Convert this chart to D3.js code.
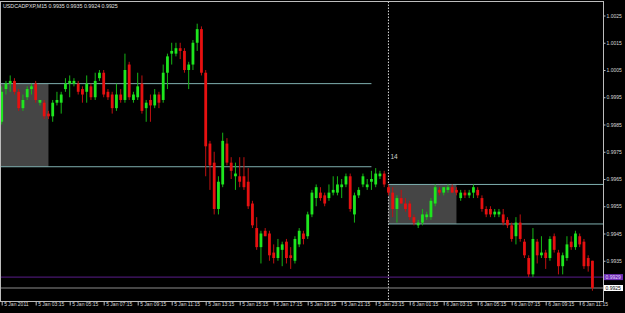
<!DOCTYPE html>
<meta charset="utf-8">
<head>
<script src="https://d3js.org/d3.v7.min.js"></script>
<style>
  body { margin: 0; background: #000; }
  svg text { font-family: "Liberation Sans", Arial, sans-serif; }
</style>
</head>
<body>
<svg id="chart" width="625" height="313"></svg>
<script>

// USDCAD M15, 5 Jan 01:15 -> 6 Jan 12:00 (140 bars)
const symbolTitle = "USDCADPXP,M15";

const barOpen = [
  0.9986,0.9998,1.0000,1.0001,0.9997,0.9991,0.9995,0.9998,1.0000,0.9993,
  0.9993,0.9989,0.9988,0.9993,0.9993,0.9998,1.0000,1.0000,1.0000,0.9998,
  0.9997,0.9999,0.9995,1.0002,1.0004,0.9997,0.9996,0.9991,0.9996,0.9994,
  1.0007,0.9994,0.9995,1.0000,0.9991,0.9994,0.9992,0.9996,0.9994,1.0004,
  1.0011,1.0011,1.0013,1.0012,1.0005,1.0007,1.0015,1.0020,1.0004,0.9978,
  0.9971,0.9954,0.9963,0.9978,0.9971,0.9966,0.9966,0.9966,0.9964,0.9956,
  0.9947,0.9940,0.9946,0.9945,0.9938,0.9936,0.9939,0.9942,0.9937,0.9935,
  0.9941,0.9945,0.9944,0.9952,0.9958,0.9960,0.9959,0.9958,0.9960,0.9960,
  0.9962,0.9963,0.9966,0.9952,0.9959,0.9963,0.9962,0.9964,0.9963,0.9966,
  0.9967,0.9962,0.9960,0.9954,0.9958,0.9956,0.9956,0.9951,0.9948,0.9949,
  0.9951,0.9951,0.9956,0.9961,0.9960,0.9961,0.9962,0.9961,0.9958,0.9960,
  0.9959,0.9960,0.9961,0.9958,0.9954,0.9954,0.9952,0.9952,0.9952,0.9950,
  0.9948,0.9944,0.9949,0.9942,0.9936,0.9930,0.9942,0.9937,0.9938,0.9936,
  0.9944,0.9938,0.9933,0.9936,0.9942,0.9940,0.9944,0.9942,0.9936,0.9935
];
const barHigh = [
  0.9999,1.0001,1.0003,1.0002,0.9998,0.9996,0.9999,1.0000,1.0001,0.9994,
  0.9994,0.9990,0.9994,0.9997,0.9997,1.0002,1.0003,1.0002,1.0001,0.9999,
  1.0003,1.0000,1.0004,1.0005,1.0005,0.9998,0.9997,1.0000,0.9998,1.0011,
  1.0008,0.9997,1.0004,1.0003,0.9994,0.9996,0.9998,0.9997,1.0007,1.0011,
  1.0015,1.0015,1.0015,1.0013,1.0008,1.0016,1.0022,1.0021,1.0005,0.9979,
  0.9975,0.9966,0.9982,0.9980,0.9973,0.9971,0.9973,0.9973,0.9969,0.9957,
  0.9951,0.9946,0.9947,0.9946,0.9941,0.9943,0.9942,0.9943,0.9940,0.9944,
  0.9947,0.9946,0.9953,0.9961,0.9963,0.9962,0.9960,0.9963,0.9966,0.9966,
  0.9965,0.9967,0.9967,0.9960,0.9962,0.9967,0.9965,0.9968,0.9969,0.9968,
  0.9968,0.9963,0.9962,0.9959,0.9961,0.9958,0.9957,0.9952,0.9950,0.9954,
  0.9953,0.9958,0.9963,0.9962,0.9962,0.9963,0.9963,0.9962,0.9961,0.9961,
  0.9961,0.9963,0.9962,0.9959,0.9955,0.9955,0.9954,0.9954,0.9954,0.9951,
  0.9949,0.9951,0.9952,0.9943,0.9937,0.9947,0.9943,0.9944,0.9939,0.9944,
  0.9945,0.9939,0.9938,0.9944,0.9944,0.9946,0.9945,0.9943,0.9937,0.9935
];
const barLow = [
  0.9985,0.9996,0.9997,0.9996,0.9990,0.9990,0.9994,0.9996,0.9993,0.9992,
  0.9987,0.9987,0.9986,0.9992,0.9989,0.9997,0.9995,0.9999,0.9996,0.9993,
  0.9993,0.9994,0.9994,1.0001,0.9995,0.9994,0.9989,0.9990,0.9993,0.9993,
  0.9994,0.9993,0.9994,0.9989,0.9986,0.9986,0.9991,0.9991,0.9993,0.9998,
  1.0007,1.0010,1.0009,1.0004,0.9998,1.0005,1.0012,1.0003,0.9966,0.9961,
  0.9952,0.9952,0.9962,0.9970,0.9965,0.9961,0.9962,0.9961,0.9954,0.9947,
  0.9939,0.9934,0.9944,0.9935,0.9934,0.9935,0.9933,0.9934,0.9932,0.9934,
  0.9940,0.9941,0.9943,0.9951,0.9955,0.9957,0.9955,0.9957,0.9959,0.9959,
  0.9958,0.9962,0.9953,0.9949,0.9958,0.9962,0.9961,0.9961,0.9962,0.9965,
  0.9962,0.9959,0.9951,0.9949,0.9956,0.9953,0.9950,0.9948,0.9947,0.9948,
  0.9950,0.9950,0.9955,0.9959,0.9959,0.9960,0.9960,0.9959,0.9957,0.9958,
  0.9958,0.9958,0.9958,0.9953,0.9951,0.9951,0.9951,0.9951,0.9948,0.9947,
  0.9942,0.9941,0.9942,0.9936,0.9929,0.9929,0.9934,0.9936,0.9932,0.9935,
  0.9938,0.9930,0.9930,0.9935,0.9939,0.9939,0.9940,0.9932,0.9931,0.9924
];
const barClose = [
  0.9997,1.0000,1.0001,0.9997,0.9991,0.9994,0.9998,0.9999,0.9994,0.9994,
  0.9988,0.9988,0.9993,0.9994,0.9996,1.0000,1.0001,1.0001,0.9997,0.9996,
  1.0000,0.9995,1.0001,1.0004,0.9996,0.9995,0.9991,0.9996,0.9994,1.0005,
  0.9995,0.9996,0.9999,0.9990,0.9993,0.9992,0.9996,0.9993,1.0004,1.0010,
  1.0012,1.0013,1.0012,1.0005,1.0007,1.0015,1.0020,1.0004,0.9977,0.9970,
  0.9954,0.9964,0.9979,0.9971,0.9968,0.9967,0.9964,0.9962,0.9955,0.9948,
  0.9940,0.9945,0.9944,0.9937,0.9936,0.9940,0.9941,0.9936,0.9936,0.9943,
  0.9946,0.9943,0.9952,0.9960,0.9962,0.9958,0.9956,0.9960,0.9961,0.9963,
  0.9963,0.9966,0.9954,0.9959,0.9961,0.9966,0.9963,0.9965,0.9967,0.9967,
  0.9963,0.9960,0.9954,0.9958,0.9956,0.9954,0.9951,0.9949,0.9949,0.9952,
  0.9952,0.9957,0.9962,0.9960,0.9962,0.9962,0.9960,0.9960,0.9960,0.9959,
  0.9960,0.9962,0.9959,0.9954,0.9952,0.9952,0.9953,0.9953,0.9949,0.9948,
  0.9943,0.9949,0.9943,0.9937,0.9930,0.9943,0.9937,0.9938,0.9936,0.9943,
  0.9939,0.9933,0.9937,0.9941,0.9940,0.9945,0.9941,0.9933,0.9933,0.9925
];

// time axis: a label every 8 bars
const timeTicks = [0,8,16,24,32,40,48,56,64,72,80,88,96,104,112,120,128,136];
const timeLabels = [
  "5 Jan 2011","5 Jan 03:15","5 Jan 05:15","5 Jan 07:15","5 Jan 09:15",
  "5 Jan 11:15","5 Jan 13:15","5 Jan 15:15","5 Jan 17:15","5 Jan 19:15",
  "5 Jan 21:15","5 Jan 23:15","6 Jan 01:15","6 Jan 03:15","6 Jan 05:15",
  "6 Jan 07:15","6 Jan 09:15","6 Jan 11:15"
];
const priceTicks = [1.0025,1.0015,1.0005,0.9995,0.9985,0.9975,0.9965,0.9955,0.9945,0.9935];

// 00:00-04:00 range boxes (bar indices) and their levels
const boxStart = [-5, 91];
const boxEnd = [11, 107];
const boxHigh = [1.0000, 0.9963];
const boxLow = [0.99695, 0.99485];
const levelEnd = [87, 150];

const daySeparator = 91;
const askPrice = 0.9929;
const bidPrice = 0.9925;

const svg = d3.select("#chart"),
    width = +svg.attr("width"),
    height = +svg.attr("height");

svg.append("rect").attr("width", width).attr("height", height).attr("fill", "#000");

var plotRight = 603.5, plotTop = 1.5, plotBottom = 301.5;

var x = d3.scaleLinear().domain([0, 139]).range([1.7, 592.45]);
var y = d3.scaleLinear().domain([0.9925, 1.0025]).range([288, 15.5]);

svg.append("clipPath").attr("id", "plotclip")
  .append("rect").attr("x", 0.5).attr("y", plotTop).attr("width", plotRight - 0.5).attr("height", plotBottom - plotTop);

var g = svg.append("g").attr("clip-path", "url(#plotclip)");

// range boxes
boxStart.forEach(function(s, i) {
  g.append("rect")
    .attr("x", x(s)).attr("y", y(boxHigh[i]))
    .attr("width", x(boxEnd[i]) - x(s))
    .attr("height", y(boxLow[i]) - y(boxHigh[i]))
    .attr("fill", "#454545");
  [boxHigh[i], boxLow[i]].forEach(function(p) {
    g.append("line")
      .attr("x1", x(s)).attr("x2", x(levelEnd[i]))
      .attr("y1", y(p)).attr("y2", y(p))
      .attr("stroke", "#7fb0b0").attr("stroke-width", 1);
  });
});

// day separator
g.append("line")
  .attr("x1", x(daySeparator)).attr("x2", x(daySeparator))
  .attr("y1", plotTop).attr("y2", plotBottom)
  .attr("stroke", "#d8d8d8").attr("stroke-width", 1)
  .attr("stroke-dasharray", "1.5,1.5");

svg.append("text")
  .attr("x", x(daySeparator) + 2).attr("y", 159)
  .attr("font-size", 6.5).attr("fill", "#d0d0d0")
  .text("14");

// ask / bid lines
g.append("line").attr("x1", 0).attr("x2", plotRight)
  .attr("y1", y(askPrice)).attr("y2", y(askPrice))
  .attr("stroke", "#5a1d8c").attr("stroke-width", 1);
g.append("line").attr("x1", 0).attr("x2", plotRight)
  .attr("y1", y(bidPrice)).attr("y2", y(bidPrice))
  .attr("stroke", "#8c8c8c").attr("stroke-width", 1);

// candles
var bars = d3.range(barOpen.length);
var up = function(i) { return barClose[i] >= barOpen[i]; };

g.append("g").selectAll("line")
  .data(bars).enter().append("line")
  .attr("x1", i => x(i)).attr("x2", i => x(i))
  .attr("y1", i => y(barHigh[i])).attr("y2", i => y(barLow[i]))
  .attr("stroke", i => up(i) ? "#16b516" : "#c01010")
  .attr("stroke-width", 1);

g.append("g").selectAll("rect")
  .data(bars).enter().append("rect")
  .attr("x", i => x(i) - 1.4)
  .attr("width", 2.8)
  .attr("y", i => y(Math.max(barOpen[i], barClose[i])))
  .attr("height", i => Math.max(1, Math.abs(y(barOpen[i]) - y(barClose[i]))))
  .attr("fill", i => up(i) ? "#1ee61e" : "#e61010");

// frame
svg.append("rect")
  .attr("x", 0.5).attr("y", plotTop)
  .attr("width", plotRight - 0.5).attr("height", plotBottom - plotTop)
  .attr("fill", "none").attr("stroke", "#bdbdbd").attr("stroke-width", 1);

// price axis
var yAxis = d3.axisRight(y).tickValues(priceTicks).tickFormat(d3.format(".4f")).tickSize(2).tickPadding(1);
var ya = svg.append("g").attr("transform", "translate(" + plotRight + ",0)").call(yAxis);
ya.select(".domain").remove();
ya.selectAll("line").attr("stroke", "#bdbdbd");
ya.selectAll("text").attr("fill", "#d8d8d8").attr("font-size", 5).attr("font-family", "Liberation Sans, Arial, sans-serif");

// price labels for ask and bid
function priceBox(p, bg, fg) {
  svg.append("rect").attr("x", plotRight + 0.5).attr("y", y(p) - 3)
    .attr("width", 19).attr("height", 6).attr("fill", bg);
  svg.append("text").attr("x", plotRight + 2).attr("y", y(p) + 1.8)
    .attr("font-size", 5).attr("fill", fg).text(d3.format(".4f")(p));
}
priceBox(askPrice, "#6e2fb3", "#e4d4ff");
priceBox(bidPrice, "#ffffff", "#000000");

// time axis
var xAxis = d3.axisBottom(x).tickValues(timeTicks)
  .tickFormat((d, i) => timeLabels[i]).tickSize(4).tickPadding(-3);
var xa = svg.append("g").attr("transform", "translate(0," + plotBottom + ")").call(xAxis);
xa.select(".domain").remove();
xa.selectAll("line").attr("stroke", "#bdbdbd");
xa.selectAll("text").attr("fill", "#d8d8d8").attr("font-size", 5)
  .attr("text-anchor", "start").attr("dx", 2)
  .attr("font-family", "Liberation Sans, Arial, sans-serif");

// title
svg.append("text").attr("x", 3).attr("y", 8)
  .attr("font-size", 5.3).attr("fill", "#e0e0e0")
  .text(symbolTitle + "  " + [barOpen[139], barHigh[139], barLow[139], barClose[139]].map(d3.format(".4f")).join(" "));

</script>
</body>
</html>
